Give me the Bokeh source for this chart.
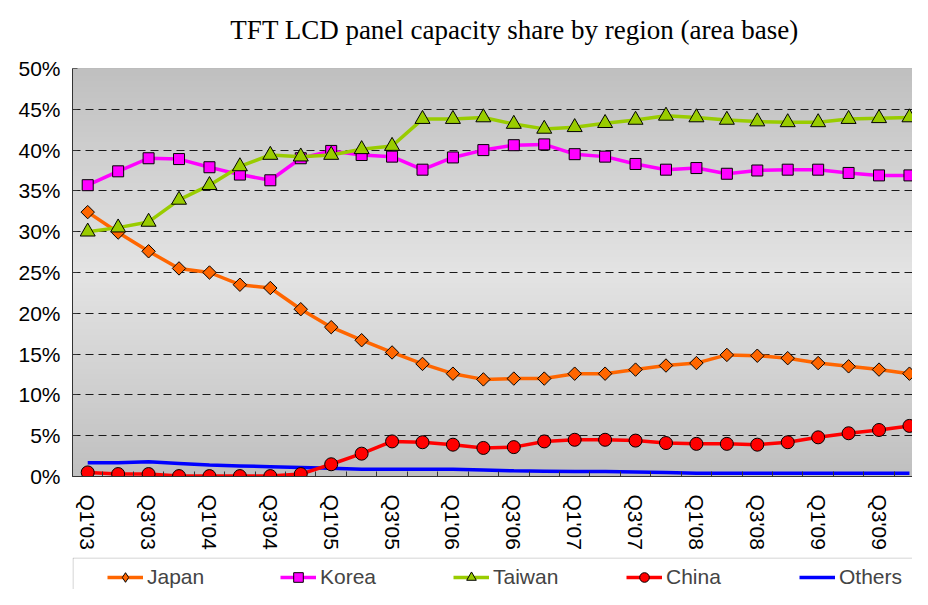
import numpy as np
from bokeh.plotting import figure
from bokeh.layouts import column
from bokeh.models import (Range1d, FixedTicker, PrintfTickFormatter, Legend,
                          LegendItem, Span, BoxAnnotation, Label)
from bokeh.embed import file_html
from bokeh.resources import INLINE

title_text = "TFT LCD panel capacity share by region (area base)"
quarters = ["Q1'03", "Q2'03", "Q3'03", "Q4'03", "Q1'04", "Q2'04", "Q3'04", "Q4'04",
            "Q1'05", "Q2'05", "Q3'05", "Q4'05", "Q1'06", "Q2'06", "Q3'06", "Q4'06",
            "Q1'07", "Q2'07", "Q3'07", "Q4'07", "Q1'08", "Q2'08", "Q3'08", "Q4'08",
            "Q1'09", "Q2'09", "Q3'09", "Q4'09"]
japan = [32.4, 29.9, 27.6, 25.5, 25.0, 23.5, 23.1, 20.5, 18.3, 16.7, 15.2, 13.8, 12.6, 11.9,
         12.0, 12.0, 12.6, 12.6, 13.1, 13.6, 13.9, 14.9, 14.8, 14.5, 13.9, 13.5, 13.1, 12.6]
korea = [35.7, 37.4, 39.0, 38.9, 37.9, 37.0, 36.3, 39.0, 39.9, 39.4, 39.2, 37.6, 39.1, 40.0,
         40.6, 40.7, 39.5, 39.2, 38.3, 37.6, 37.8, 37.1, 37.5, 37.6, 37.6, 37.2, 36.9, 36.9]
taiwan = [30.0, 30.5, 31.2, 33.9, 35.7, 38.0, 39.4, 39.2, 39.4, 40.1, 40.5, 43.8, 43.8, 44.0,
          43.2, 42.6, 42.8, 43.3, 43.7, 44.2, 44.0, 43.7, 43.5, 43.4, 43.4, 43.8, 43.9, 44.0]
china = [0.5, 0.3, 0.3, 0.05, 0.05, 0.05, 0.05, 0.3, 1.5, 2.8, 4.3, 4.2, 3.9, 3.5,
         3.6, 4.3, 4.5, 4.5, 4.4, 4.1, 4.0, 4.0, 3.9, 4.2, 4.8, 5.3, 5.7, 6.2]
others = [1.7, 1.7, 1.8, 1.6, 1.4, 1.3, 1.2, 1.1, 1.0, 0.9, 0.9, 0.9, 0.9, 0.8,
          0.7, 0.65, 0.6, 0.6, 0.55, 0.5, 0.4, 0.4, 0.4, 0.4, 0.4, 0.4, 0.4, 0.4]
series_names = ["Japan", "Korea", "Taiwan", "China", "Others"]
y_ticks = [0, 5, 10, 15, 20, 25, 30, 35, 40, 45, 50]

x = list(range(len(quarters)))
SANS = "Liberation Sans"
C_JP, C_KR, C_TW, C_CN, C_OT = "#FF6600", "#FF00FF", "#99CC00", "#FF0000", "#0000FF"


def strip(height):
    f = figure(width=912, height=height, output_backend="svg", toolbar_location=None,
               x_axis_location=None, y_axis_location=None, min_border=0,
               x_range=Range1d(-0.5, 27.1), y_range=Range1d(0, 50),
               background_fill_color="white", border_fill_color="white")
    f.outline_line_color = None
    f.grid.visible = False
    return f


# title strip
tf = strip(46)
tf.add_layout(Label(x=442, y=17, x_units="screen", y_units="screen", text=title_text,
                    text_align="center", text_baseline="middle",
                    text_font="Liberation Serif", text_font_size="27px",
                    text_color="black"))

p = figure(width=912, height=511, output_backend="svg", toolbar_location=None,
           x_range=Range1d(-0.5, 27.1), y_range=Range1d(0, 50),
           min_border_left=72, min_border_right=0, min_border_top=22,
           min_border_bottom=81, background_fill_color="white",
           border_fill_color="white")
p.outline_line_color = None

# plot-area gradient background
n = 300
t = np.linspace(0, 1, n)
g = (192 + (228 - 192) * (1 - np.abs(2 * t - 1))).astype(np.uint8)
img = np.empty((n, 1), dtype=np.uint32)
view = img.view(dtype=np.uint8).reshape((n, 1, 4))
view[:, 0, 0] = g
view[:, 0, 1] = g
view[:, 0, 2] = g
view[:, 0, 3] = 255
p.image_rgba(image=[img], x=-0.5, y=0, dw=len(quarters) + 1, dh=50, level="image")

# grid
p.xgrid.visible = False
p.ygrid.ticker = FixedTicker(ticks=y_ticks[1:-1])
p.ygrid.grid_line_color = "#1a1a1a"
p.ygrid.grid_line_dash = "8 5"
p.ygrid.grid_line_width = 1
p.add_layout(Span(location=50, dimension="width", line_color="#8a8a8a", line_width=1))

# axes
p.yaxis.ticker = FixedTicker(ticks=y_ticks)
p.yaxis.formatter = PrintfTickFormatter(format="%d%%")
p.yaxis.major_label_text_font = SANS
p.yaxis.major_label_text_font_size = "21px"
p.yaxis.major_label_text_color = "black"
p.yaxis.major_tick_in = 5
p.yaxis.major_tick_out = 0
p.yaxis.minor_tick_line_color = None
p.yaxis.major_label_standoff = 12
p.yaxis.axis_line_color = "#333333"
p.yaxis.major_tick_line_color = "#333333"

p.xaxis.ticker = FixedTicker(ticks=x[::2], minor_ticks=[i - 0.5 for i in x] + [len(x) - 0.5])
p.xaxis.major_label_overrides = {i: quarters[i] for i in x[::2]}
p.xaxis.major_label_orientation = "vertical"
p.xaxis.major_label_text_font = SANS
p.xaxis.major_label_text_font_size = "21px"
p.xaxis.major_label_text_color = "black"
p.xaxis.major_tick_in = 0
p.xaxis.major_tick_out = 0
p.xaxis.minor_tick_in = 5
p.xaxis.minor_tick_out = 0
p.xaxis.minor_tick_line_color = "#333333"
p.xaxis.major_label_standoff = 18
p.xaxis.axis_line_color = "#333333"


# series
def draw_series(fig, ys, color, marker=None, size=None, angle=0.0, visible=True):
    rs = [fig.line(x, ys, line_color=color, line_width=3.5, visible=visible)]
    if marker is not None:
        rs.append(fig.scatter(x, ys, marker=marker, angle=angle, size=size,
                              fill_color=color, line_color="black", line_width=1,
                              visible=visible))
    return rs


draw_series(p, japan, C_JP, "square", 9.5, np.pi / 4)
draw_series(p, korea, C_KR, "square", 11)
draw_series(p, taiwan, C_TW, "triangle", 15)
draw_series(p, others, C_OT)
draw_series(p, china, C_CN, "circle", 13)

# legend strip below the chart (series proxies are hidden; only their legend glyphs show)
lf = strip(32)
lf.add_layout(BoxAnnotation(left=0.5, right=3000, top=31.5, bottom=-200,
                            left_units="screen", right_units="screen",
                            top_units="screen", bottom_units="screen",
                            fill_color="white", fill_alpha=1,
                            line_color="#444444", line_width=1, level="underlay"))

r_jp = draw_series(lf, japan, C_JP, "diamond", 14, visible=False)
r_kr = draw_series(lf, korea, C_KR, "square", 11, visible=False)
r_tw = draw_series(lf, taiwan, C_TW, "triangle", 15, visible=False)
r_cn = draw_series(lf, china, C_CN, "circle", 13, visible=False)
r_ot = draw_series(lf, others, C_OT, visible=False)

leg = Legend(items=[LegendItem(label=nm, renderers=rs) for nm, rs in
                    zip(series_names, [r_jp, r_kr, r_tw, r_cn, r_ot])],
             orientation="horizontal", location=(35, 0), padding=0, spacing=0,
             glyph_width=36, glyph_height=24, label_standoff=4, label_width=133,
             label_text_font=SANS, label_text_font_size="21px",
             border_line_color=None, background_fill_alpha=0, margin=0)
lf.add_layout(leg, "center")

layout = column(tf, p, lf, spacing=0)
open("out.html", "w").write(file_html(layout, INLINE))
